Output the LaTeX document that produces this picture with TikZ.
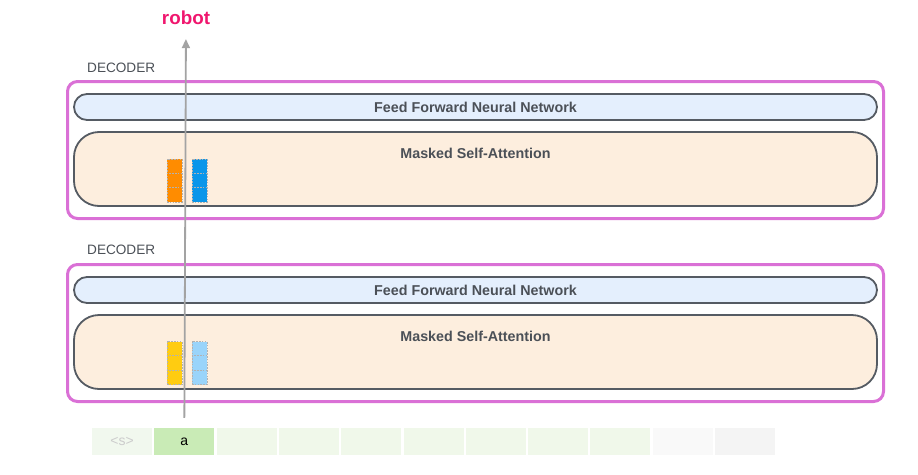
\documentclass[tikz,border=0pt]{standalone}
\usepackage{fontspec}
\setmainfont{Liberation Sans}
\usetikzlibrary{arrows.meta}
\definecolor{decpink}{RGB}{218,112,214}
\definecolor{boxedge}{RGB}{85,91,99}
\definecolor{ffblue}{RGB}{228,239,253}
\definecolor{msapeach}{RGB}{253,238,222}
\definecolor{lblgray}{RGB}{75,80,87}
\definecolor{robotpink}{RGB}{240,22,110}
\definecolor{arrgray}{RGB}{163,163,163}
\definecolor{barorange}{RGB}{255,140,0}
\definecolor{barblue}{RGB}{10,150,234}
\definecolor{baryellow}{RGB}{255,204,17}
\definecolor{barsky}{RGB}{154,212,250}
\definecolor{tokfirst}{RGB}{241,248,238}
\definecolor{tokcur}{RGB}{201,235,182}
\definecolor{tokgreen}{RGB}{240,248,234}
\definecolor{tokgreyA}{RGB}{249,249,249}
\definecolor{tokgreyB}{RGB}{244,244,244}
\begin{document}
\begin{tikzpicture}[x=1pt,y=-1pt,
  decbox/.style={draw=decpink, line width=3pt, rounded corners=10pt,
    minimum width=816pt, minimum height=137pt, inner sep=0pt},
  ffbox/.style={draw=boxedge, line width=1.8pt, fill=ffblue, rounded corners=13pt,
    minimum width=803pt, minimum height=26pt, inner sep=0pt,
    font=\bfseries\fontsize{14.3}{16}\selectfont, text=lblgray},
  msabox/.style={draw=boxedge, line width=1.8pt, fill=msapeach, rounded corners=25pt,
    minimum width=803pt, minimum height=74pt, inner sep=0pt},
  msalabel/.style={font=\bfseries\fontsize{14.3}{16}\selectfont, text=lblgray},
  declabel/.style={font=\fontsize{13.6}{16}\selectfont, text=lblgray, anchor=west, inner sep=0pt},
  vecbar/.style={draw=gray!60, dash pattern=on 1.6pt off 1.2pt, line width=0.7pt,
    minimum width=15pt, minimum height=43pt, inner sep=0pt},
  vecsep/.style={draw=gray!60, dash pattern=on 1.6pt off 1.2pt, line width=0.7pt},
  tok/.style={minimum width=60pt, minimum height=27pt, inner sep=0pt,
    font=\fontsize{14}{16}\selectfont},
  outarrow/.style={draw=arrgray, line width=1.8pt, -{Triangle[length=9pt,width=8pt]},
    shorten <=10pt, shorten >=14pt}]
% canvas
\fill[white] (0,0) rectangle (918,474);
\useasboundingbox (0,0) rectangle (918,474);
% output word
\node[font=\bfseries\fontsize{18.8}{20}\selectfont, text=robotpink, inner sep=0pt] (robot) at (186,18) {robot};
% decoder 1
\node[declabel] (dlab1) at (87,68) {DECODER};
\node[decbox] (dec1) at (475.5,150) {};
\node[ffbox] (ff1) at (475.5,107) {Feed Forward Neural Network};
\node[msabox] (msa1) at (475.5,169) {};
\node[msalabel] (msalab1) at (475.5,153) {Masked Self-Attention};
% decoder 2
\node[declabel] (dlab2) at (87,250) {DECODER};
\node[decbox] (dec2) at (475.5,333) {};
\node[ffbox] (ff2) at (475.5,290) {Feed Forward Neural Network};
\node[msabox] (msa2) at (475.5,352) {};
\node[msalabel] (msalab2) at (475.5,336) {Masked Self-Attention};
% vectors
\foreach \nm/\cx/\cy/\col in {vo1/174.5/180.5/barorange, vb1/199.5/180.5/barblue,
    vy2/174.5/363/baryellow, vs2/199.5/363/barsky}{
  \node[vecbar, fill=\col] (\nm) at (\cx,\cy) {};
  \draw[vecsep] ([yshift=7.3pt]\nm.west) -- ([yshift=7.3pt]\nm.east);
  \draw[vecsep] ([yshift=-7.3pt]\nm.west) -- ([yshift=-7.3pt]\nm.east);
}
% input tokens
\foreach \i/\col/\txt/\tcol in {1/tokfirst/{<s>}/gray!40, 2/tokcur/a/black,
    3/tokgreen//black, 4/tokgreen//black, 5/tokgreen//black, 6/tokgreen//black,
    7/tokgreen//black, 8/tokgreen//black, 9/tokgreen//black,
    10/tokgreyA//black, 11/tokgreyB//black}{
  \node[tok, fill=\col, text=\tcol] (tok\i) at ({122+(\i-1)*62.3},441.5) {\txt};
}
% arrow up
\draw[outarrow] (tok2.north) -- (robot.south);
\end{tikzpicture}
\end{document}
